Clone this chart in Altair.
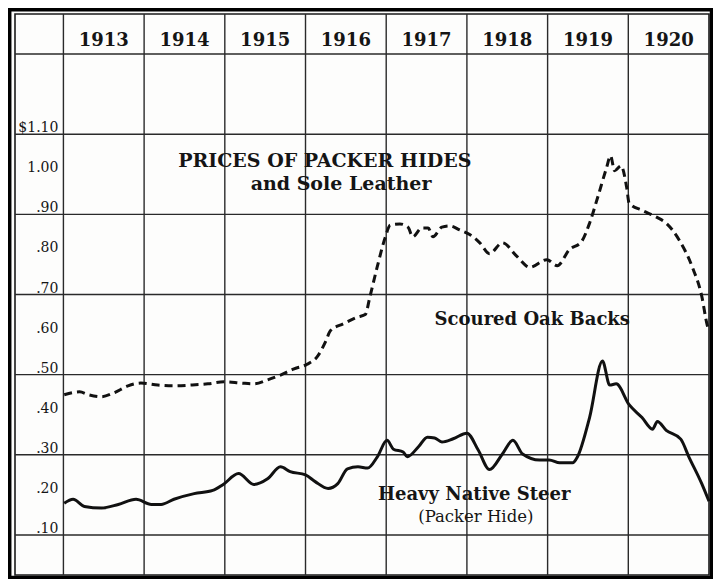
import altair as alt
import pandas as pd

# ---- data ----
oak_year = [1913.01, 1913.20, 1913.31, 1913.47, 1913.63, 1913.80, 1913.96, 1914.17, 1914.37, 1914.58,
            1914.79, 1914.99, 1915.20, 1915.36, 1915.53, 1915.69, 1915.85, 1916.02, 1916.15, 1916.25,
            1916.31, 1916.47, 1916.65, 1916.74, 1916.80, 1916.89, 1916.99, 1917.05, 1917.17, 1917.27,
            1917.33, 1917.44, 1917.52, 1917.58, 1917.69, 1917.79, 1917.91, 1918.04, 1918.16, 1918.28,
            1918.44, 1918.62, 1918.78, 1918.99, 1919.12, 1919.27, 1919.42, 1919.52, 1919.62, 1919.73,
            1919.78, 1919.83, 1919.91, 1919.98, 1920.01, 1920.17, 1920.35, 1920.47, 1920.63, 1920.79,
            1920.91, 1920.98, 1921.00]
oak_price = [0.450, 0.457, 0.450, 0.445, 0.455, 0.472, 0.479, 0.474, 0.472, 0.474,
             0.477, 0.482, 0.479, 0.477, 0.487, 0.499, 0.514, 0.526, 0.546, 0.583,
             0.610, 0.627, 0.644, 0.650, 0.696, 0.770, 0.844, 0.873, 0.876, 0.868,
             0.844, 0.866, 0.866, 0.844, 0.868, 0.871, 0.861, 0.849, 0.829, 0.802,
             0.829, 0.795, 0.768, 0.787, 0.772, 0.812, 0.832, 0.878, 0.942, 1.016,
             1.046, 1.009, 1.021, 0.967, 0.928, 0.910, 0.893, 0.878, 0.836, 0.770,
             0.696, 0.622, 0.610]

steer_year = [1913.01, 1913.12, 1913.26, 1913.47, 1913.68, 1913.90, 1914.09, 1914.21, 1914.37, 1914.62,
              1914.85, 1914.98, 1915.17, 1915.36, 1915.53, 1915.69, 1915.81, 1916.00, 1916.12, 1916.28,
              1916.40, 1916.52, 1916.65, 1916.77, 1916.89, 1917.01, 1917.09, 1917.21, 1917.26, 1917.40,
              1917.51, 1917.60, 1917.69, 1917.83, 1918.00, 1918.14, 1918.28, 1918.44, 1918.57, 1918.69,
              1918.90, 1919.02, 1919.15, 1919.31, 1919.37, 1919.52, 1919.68, 1919.77, 1919.85, 1920.01,
              1920.17, 1920.30, 1920.36, 1920.47, 1920.65, 1920.75, 1920.91, 1921.00]
steer_price = [0.179, 0.189, 0.171, 0.167, 0.176, 0.189, 0.176, 0.176, 0.189, 0.203,
               0.211, 0.226, 0.253, 0.226, 0.240, 0.270, 0.258, 0.250, 0.233, 0.216,
               0.228, 0.265, 0.270, 0.267, 0.295, 0.336, 0.314, 0.307, 0.295, 0.320,
               0.344, 0.342, 0.332, 0.340, 0.354, 0.312, 0.263, 0.302, 0.336, 0.302,
               0.287, 0.287, 0.280, 0.280, 0.295, 0.393, 0.534, 0.474, 0.477, 0.425,
               0.393, 0.364, 0.383, 0.361, 0.339, 0.295, 0.228, 0.184]

years = [1913, 1914, 1915, 1916, 1917, 1918, 1919, 1920]
price_ticks = [1.10, 1.00, 0.90, 0.80, 0.70, 0.60, 0.50, 0.40, 0.30, 0.20, 0.10]
price_labels = ["$1.10", "1.00", ".90", ".80", ".70", ".60", ".50", ".40", ".30", ".20", ".10"]
grid_prices = [0.10, 0.30, 0.50, 0.70, 0.90, 1.10, 1.30]

title_lines = ["PRICES OF PACKER HIDES", "and Sole Leather"]
title_x = [1916.24, 1916.44]
title_y = [1.019, 0.960]

series_labels = ["Scoured Oak Backs", "Heavy Native Steer"]
series_label_x = [1918.81, 1918.09]
series_label_y = [0.625, 0.186]
sub_label = ["(Packer Hide)"]
sub_label_x = [1918.11]
sub_label_y = [0.132]

# ---- chart ----
W, H = 694, 561
FONT = "DejaVu Serif"
INK = "#151515"

xs = alt.Scale(domain=[1912.4, 1921], nice=False, zero=False)
ys = alt.Scale(domain=[0, 1.4], nice=False, zero=False)

oak_df = pd.DataFrame({"year": oak_year, "price": oak_price})
steer_df = pd.DataFrame({"year": steer_year, "price": steer_price})

vgrid = alt.Chart(pd.DataFrame({"year": years})).mark_rule(
    color="#2a2a2a", strokeWidth=1.4
).encode(x=alt.X("year:Q", scale=xs, axis=None))

hgrid = alt.Chart(pd.DataFrame({"p": grid_prices})).mark_rule(
    color="#2a2a2a", strokeWidth=1.4
).encode(y=alt.Y("p:Q", scale=ys, axis=None))

year_text = alt.Chart(pd.DataFrame({"year": years})).transform_calculate(
    mid="datum.year + 0.5", top="1.3"
).mark_text(font=FONT, fontSize=18, fontWeight="bold", color=INK,
            align="center", baseline="alphabetic", dy=-8).encode(
    x=alt.X("mid:Q", scale=xs, axis=None),
    y=alt.Y("top:Q", scale=ys, axis=None),
    text="year:N",
)

price_text = alt.Chart(pd.DataFrame({"p": price_ticks, "label": price_labels})).transform_calculate(
    edge="1913"
).mark_text(font=FONT, fontSize=14, color=INK, align="right",
            baseline="alphabetic", dx=-5, dy=-2).encode(
    x=alt.X("edge:Q", scale=xs, axis=None),
    y=alt.Y("p:Q", scale=ys, axis=None),
    text="label:N",
)

oak_line = alt.Chart(oak_df).mark_line(
    color="#111", strokeWidth=3, strokeDash=[8, 5], interpolate="monotone"
).encode(x=alt.X("year:Q", scale=xs, axis=None), y=alt.Y("price:Q", scale=ys, axis=None))

steer_line = alt.Chart(steer_df).mark_line(
    color="#111", strokeWidth=3, interpolate="monotone"
).encode(x=alt.X("year:Q", scale=xs, axis=None), y=alt.Y("price:Q", scale=ys, axis=None))

title_text = alt.Chart(pd.DataFrame({"t": title_lines, "x": title_x, "y": title_y})).mark_text(
    font=FONT, fontSize=19, fontWeight="bold", color=INK, align="center", baseline="alphabetic"
).encode(x=alt.X("x:Q", scale=xs, axis=None), y=alt.Y("y:Q", scale=ys, axis=None), text="t:N")

series_text = alt.Chart(pd.DataFrame({"t": series_labels, "x": series_label_x, "y": series_label_y})).mark_text(
    font=FONT, fontSize=18, fontWeight="bold", color=INK, align="center", baseline="alphabetic"
).encode(x=alt.X("x:Q", scale=xs, axis=None), y=alt.Y("y:Q", scale=ys, axis=None), text="t:N")

sub_text = alt.Chart(pd.DataFrame({"t": sub_label, "x": sub_label_x, "y": sub_label_y})).mark_text(
    font=FONT, fontSize=16.5, color=INK, align="center", baseline="alphabetic"
).encode(x=alt.X("x:Q", scale=xs, axis=None), y=alt.Y("y:Q", scale=ys, axis=None), text="t:N")

outer = alt.Chart(alt.Data(values=[{"k": 1}])).mark_rect(
    filled=False, stroke="#000", strokeWidth=3.5
).encode(
    x=alt.value(-5.3), x2=alt.value(W + 2.5),
    y=alt.value(-4.3), y2=alt.value(H + 2.5),
)

chart = alt.layer(
    vgrid, hgrid, year_text, price_text, oak_line, steer_line,
    title_text, series_text, sub_text, outer
).properties(
    width=W, height=H,
    padding={"left": 7, "top": 6, "right": 4, "bottom": 4},
    autosize=alt.AutoSizeParams(type="none"),
    background="#fdfdfc",
).configure_view(stroke="#1a1a1a", strokeWidth=1.6)

chart.save("out.html", embed_options={"renderer": "svg", "actions": False})
